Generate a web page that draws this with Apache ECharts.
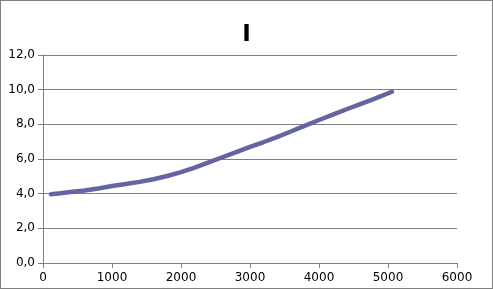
<!DOCTYPE html>
<html>
<head>
<meta charset="utf-8">
<script src="https://cdn.jsdelivr.net/npm/echarts@6/dist/echarts.min.js"></script>
<style>
html,body{margin:0;padding:0;background:#fff;}
#c{width:493px;height:289px;box-sizing:border-box;border:1px solid #808080;}
</style>
</head>
<body>
<div id="c"></div>
<script>
const titleText = "I";
const xValues = [115, 250, 400, 600, 800, 1000, 1200, 1400, 1600, 1800, 2000, 2200, 2400, 2600, 2800, 3000, 3200, 3400, 3600, 3800, 4000, 4200, 4400, 4600, 4800, 5058];
const yValues = [3.97, 4.02, 4.09, 4.18, 4.30, 4.44, 4.56, 4.68, 4.83, 5.02, 5.24, 5.50, 5.80, 6.10, 6.40, 6.70, 6.98, 7.28, 7.60, 7.93, 8.25, 8.56, 8.87, 9.17, 9.47, 9.88];
const xTicks = [0, 1000, 2000, 3000, 4000, 5000, 6000];
const yTicks = [0, 2, 4, 6, 8, 10, 12];

const chart = echarts.init(document.getElementById('c'), null, {renderer: 'canvas'});
const font = 'DejaVu Sans';
chart.setOption({
  animation: false,
  title: {
    text: titleText, left: 'center', top: 18,
    textStyle: {fontFamily: font, fontWeight: 'bold', fontSize: 23, color: '#000'}
  },
  grid: {left: 42, right: 35, top: 54, bottom: 25},
  xAxis: {
    type: 'value', min: xTicks[0], max: xTicks[xTicks.length - 1], interval: 1000,
    axisLine: {show: true, lineStyle: {color: '#808080', width: 1}},
    axisTick: {show: true, length: 5, lineStyle: {color: '#808080'}},
    splitLine: {show: false},
    axisLabel: {fontFamily: font, fontSize: 12, color: '#000', margin: 9,
      formatter: v => String(v)}
  },
  yAxis: {
    type: 'value', min: yTicks[0], max: yTicks[yTicks.length - 1], interval: 2,
    axisLine: {show: true, lineStyle: {color: '#808080', width: 1}},
    axisTick: {show: true, length: 5, lineStyle: {color: '#808080'}},
    splitLine: {show: true, lineStyle: {color: '#808080', width: 1}},
    axisLabel: {fontFamily: font, fontSize: 12, color: '#000', margin: 8,
      formatter: v => v.toFixed(1).replace('.', ',')}
  },
  series: [{
    type: 'line',
    data: xValues.map((x, i) => [x, yValues[i]]),
    showSymbol: false,
    lineStyle: {color: '#6464a0', width: 4.5, cap: 'round'},
    itemStyle: {color: '#6464a0'}
  }]
});
</script>
</body>
</html>
